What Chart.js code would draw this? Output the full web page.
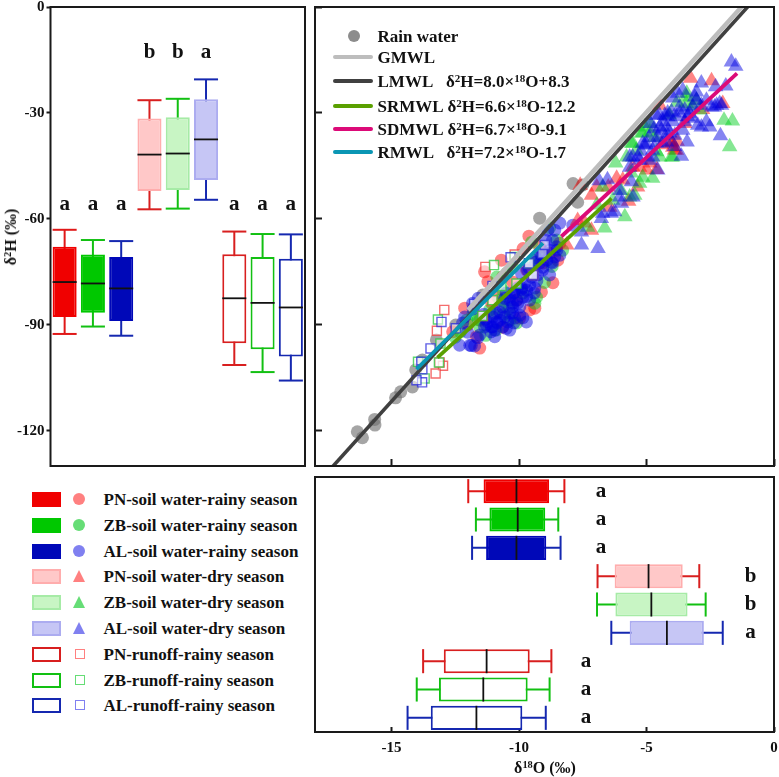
<!DOCTYPE html>
<html>
<head>
<meta charset="utf-8">
<script src="https://cdn.jsdelivr.net/npm/chart.js@4"></script>
<style>
    html, body { margin: 0; background: #fff; }
    body { width: 779px; height: 777px; position: relative; overflow: hidden;
           font-family: "Liberation Serif", serif; font-weight: bold; color: #111; }
    canvas { position: absolute; }
    .txt { position: absolute; white-space: nowrap; line-height: 1; }
    sup { font-size: 0.65em; line-height: 0; vertical-align: 0.45em; }
    .swatch, .mark, .ln { position: absolute; box-sizing: border-box; }
</style>
</head>
<body>
<canvas id="leftChart" style="left:0;top:0"></canvas>
<canvas id="mainChart" style="left:310px;top:0"></canvas>
<canvas id="bottomChart" style="left:310px;top:472px"></canvas>
<div id="overlay"></div>

<script>
// box values, same order everywhere: rainy soil, dry soil, runoff (PN, ZB, AL)
const groups = ["PN-soil-rainy", "ZB-soil-rainy", "AL-soil-rainy", "PN-soil-dry", "ZB-soil-dry", "AL-soil-dry", "PN-runoff", "ZB-runoff", "AL-runoff"];

const hLow = [-92.6, -90.5, -93.1, -57.3, -57.1, -54.6, -101.4, -103.4, -105.8];
const hQ1 = [-87.8, -86.6, -88.9, -52.1, -51.8, -49.0, -95.2, -96.9, -99.0];
const hMed = [-77.9, -78.3, -79.7, -41.8, -41.5, -37.5, -82.5, -83.8, -85.1];
const hQ3 = [-67.9, -70.1, -70.8, -31.6, -31.2, -26.1, -70.0, -70.8, -71.3];
const hHigh = [-63.1, -66.0, -66.3, -26.4, -26.0, -20.5, -63.6, -64.3, -64.4];
const hLetters = ["a", "a", "a", "b", "b", "a", "a", "a", "a"];
const hLetterPos = [-56.1, -56.1, -56.1, -13, -13, -13, -56.1, -56.1, -56.1];

const oLow = [-11.99, -11.69, -11.84, -6.92, -6.94, -6.38, -13.76, -14.01, -14.37];
const oQ1 = [-11.39, -11.16, -11.29, -6.25, -6.22, -5.66, -12.95, -13.14, -13.46];
const oMed = [-10.1, -10.05, -10.1, -4.92, -4.81, -4.2, -11.27, -11.4, -11.67];
const oQ3 = [-8.82, -8.97, -8.93, -3.58, -3.39, -2.75, -9.58, -9.66, -9.87];
const oHigh = [-8.22, -8.46, -8.37, -2.93, -2.68, -2.01, -8.73, -8.8, -8.95];
const oLetters = ["a", "a", "a", "b", "b", "a", "a", "a", "a"];
const oLetterPos = [-6.78, -6.78, -6.78, -0.92, -0.92, -0.92, -7.37, -7.37, -7.37];

const yTicks = [0, -30, -60, -90, -120];
const xTicks = [-15, -10, -5, 0];

// scatter points [d18O, d2H]
const rainWater = [[-16.34, -120.3], [-16.14, -122], [-15.66, -116.8], [-15.65, -118.4], [-14.64, -109], [-14.84, -110.7], [-14.18, -107.6], [-14.05, -102.8], [-13.79, -100], [-13.24, -94.3], [-12.48, -90.1], [-11.42, -81.6], [-9.19, -59.8], [-7.88, -50], [-7.5, -50.4], [-7.7, -55.3]];

const pnRainy = [[-12.13, -85.3], [-11.67, -93.4], [-11.54, -96.6], [-11.35, -75], [-11.22, -77.8], [-10.69, -71.7], [-9.84, -68.4], [-9.61, -64.9], [-9.12, -80.7], [-8.67, -78.1], [-9.97, -88.1], [-9.38, -85.3], [-8.4, -66.9], [-8.48, -71.7], [-10.64, -76.5], [-10.25, -77.9], [-10.84, -82.2], [-11.07, -83.9], [-11.54, -88.7], [-10.64, -90.7], [-9.58, -85.8], [-10.09, -83], [-9.07, -72.5], [-8.8, -69.7], [-9.19, -68], [-9.7, -74.5], [-12.6, -92], [-12, -90]];
const zbRainy = [[-9.31, -82.2], [-9.38, -83.9], [-10.36, -88.7], [-11.15, -85.8], [-11.54, -90.6], [-12.05, -88.7], [-8.29, -68.9], [-8.52, -66], [-9.5, -66.6], [-10.76, -83], [-10.48, -75.4], [-10.25, -73.7], [-9.85, -81], [-10.09, -89.5], [-10.87, -76.5], [-10.64, -80.2], [-9.46, -71.7], [-12.3, -92], [-12.5, -93.5], [-10.9, -91.5], [-11.3, -93], [-9, -78], [-8.7, -73.5], [-10.6, -87], [-11.8, -87], [-9.1, -70.5], [-8.8, -62.5], [-10.6, -83.5], [-11.6, -88.5], [-11, -87], [-10.4, -85.5]];
const alRainy = [[-9.71, -89.2], [-10.95, -93.4], [-11.93, -95.8], [-11.74, -96], [-11.62, -93.7], [-10.64, -90.6], [-9.85, -88], [-11.03, -90.6], [-11.35, -90.6], [-11.82, -83.9], [-12.13, -87.8], [-12.21, -89.5], [-10.09, -83], [-10.36, -83], [-9.85, -82.2], [-9.7, -80.2], [-9.58, -78.8], [-9.97, -85], [-10.25, -85], [-10.64, -85], [-11.03, -87.8], [-10.87, -86.7], [-10.56, -87.8], [-10.25, -86.7], [-9.07, -73.7], [-8.91, -71.7], [-9.19, -72.5], [-8.8, -75.9], [-8.68, -66], [-8.87, -63.2], [-8.4, -61.2], [-8.8, -68.9], [-8.6, -63.2], [-9.27, -75.9], [-9.5, -76.5], [-9.78, -78.2], [-7.89, -61.8], [-8.6, -70.8], [-12.33, -95.8], [-11.87, -95.9], [-11.08, -90.6], [-10.25, -83.9], [-8.53, -67.9], [-8.4, -70.3], [-9.07, -74.5], [-8.68, -72.5], [-10.36, -82.1], [-11.28, -90.1], [-10.75, -88.7], [-10.36, -86.7], [-10.05, -83.9], [-9.7, -82], [-10.05, -79.5], [-10.5, -81], [-9.9, -80], [-10.2, -81], [-9.4, -81], [-9.3, -77.5], [-9.6, -74], [-9.9, -75.5], [-9.15, -70], [-9.35, -71], [-8.95, -66], [-11.8, -85.5], [-11.6, -82.5], [-11.3, -88.5], [-11.1, -92], [-10.85, -89.5], [-10.5, -91], [-10.2, -89.5], [-11.38, -87], [-11.22, -89.2], [-10.87, -89.2], [-10.44, -89.2], [-10.17, -88.1], [-10.56, -82.5], [-10.17, -80.8], [-9.89, -79.6], [-9.58, -83], [-9.38, -79.6], [-9.66, -74.5], [-9.35, -72.3], [-9.03, -69.4], [-8.72, -72.3], [-8.52, -68.9], [-10.75, -86.4], [-9.97, -87.3], [-10.36, -91.5], [-10.95, -91.5], [-11.54, -92.9], [-12.02, -92.1]];

const pnDry = [[-3.27, -20.2], [-2.45, -20.9], [-3.97, -39.7], [-4, -38.5], [-3.8, -38], [-3.9, -40.5], [-2.01, -27.3], [-4.87, -44.2], [-5.27, -45.4], [-7.16, -53.3], [-6.95, -51], [-7.16, -63.2], [-6.17, -48.5], [-8.13, -67.4], [-5.93, -49], [-5.35, -51], [-4.99, -46.2], [-6.44, -56.7], [-7.42, -61.2], [-4.4, -39], [-2.8, -29], [-3.5, -33], [-4.6, -46], [-5.7, -55], [-7.7, -60.5], [-6.5, -51], [-7.6, -50.5], [-3.83, -40.6], [-4.02, -38.2], [-5.54, -45.3], [-4.48, -27.8]];
const zbDry = [[-1.74, -39.6], [-1.96, -32.1], [-1.63, -32.3], [-4.02, -42.5], [-4.87, -32.9], [-5.2, -35.7], [-5.54, -38.6], [-4.68, -36.9], [-3.42, -24.4], [-5.07, -34], [-5.85, -59.4], [-6.21, -44.2], [-6.64, -62.6], [-7.31, -62.4], [-5.46, -53.3], [-5.78, -42.5], [-5.15, -48.2], [-6.72, -51], [-6.95, -56.1], [-6.33, -54.7], [-4.1, -30.5], [-3.2, -28], [-3.8, -27], [-4.6, -41], [-5.6, -47], [-6, -52], [-4.87, -35.4], [-5.4, -40.6], [-4.48, -42.5], [-3.04, -26.4], [-3.44, -27.3], [-5.15, -35.7], [-5.59, -38.6], [-4.76, -48.5], [-5.27, -49.9], [-3.97, -42.5], [-3.44, -25.5], [-2.91, -29.2], [-5.66, -53.8]];
const alDry = [[-1.67, -15.6], [-1.5, -16.8], [-2.85, -21.5], [-2.29, -22.6], [-1.89, -22.4], [-2.33, -28.3], [-2.65, -32.5], [-2.1, -36.5], [-3.41, -38.2], [-3.63, -42.3], [-3.78, -24.4], [-3.97, -25.8], [-3.04, -24.1], [-3.11, -25.5], [-2.85, -34], [-2.52, -34], [-4.17, -31.1], [-4.36, -32.5], [-4.48, -34], [-4.21, -34], [-3.97, -32.5], [-3.7, -28.3], [-3.5, -29.2], [-3.31, -30.1], [-4.76, -40.6], [-5.54, -42.5], [-4.36, -38.6], [-4.56, -36.9], [-4.09, -35.7], [-2.25, -27.8], [-2.44, -28.3], [-2.13, -27.3], [-6.9, -68.4], [-7.55, -67.4], [-7.55, -63.7], [-6.77, -59.9], [-5.98, -55.6], [-5.53, -53.8], [-6.86, -49.2], [-6.53, -48.9], [-5.66, -42.5], [-6.05, -51.9], [-5.59, -49.5], [-6.25, -58], [-6.72, -58.4], [-4.9, -37], [-4.7, -34.5], [-4.5, -30.5], [-5, -39], [-5.2, -41], [-4.6, -38.5], [-4.2, -36], [-4.85, -33], [-3.9, -39.5], [-4.29, -30.7], [-4.02, -29.7], [-4.42, -34.9], [-3.83, -31.1], [-3.7, -30], [-3.5, -32.5], [-3.38, -31.1], [-3.19, -31.5], [-2.99, -33.5], [-3.58, -34.9], [-3.89, -36.3], [-4.21, -38.2], [-5.27, -43.4], [-4.76, -42.5], [-5.15, -38.6], [-2.85, -27.8], [-2.65, -26.4], [-3.19, -28.3], [-3.04, -26.4], [-4.56, -46.2], [-4.61, -30.7], [-4.17, -30], [-3.58, -23.6], [-2.06, -27.8], [-5.08, -39.1], [-5.35, -42.5], [-5.66, -45.4], [-4.87, -43.4], [-6.05, -53.8], [-6.38, -58.4]];

const pnRunoff = [[-12.93, -85.8], [-13.22, -91.7], [-12.98, -101.6], [-13.27, -103.8], [-11.32, -73.6], [-13.11, -100.7], [-10.17, -70.1], [-11.41, -87.5], [-11.04, -83.3], [-9.45, -75.9]];
const zbRunoff = [[-13.18, -88.5], [-13.96, -100.5], [-13.7, -105.2], [-13.08, -95.3], [-13.14, -100.7], [-10.98, -73.1], [-10.17, -70.8], [-10.69, -79], [-10.1, -78.3], [-11.44, -87.5], [-11.04, -83], [-9.61, -72.6]];
const alRunoff = [[-13.04, -89.2], [-13.47, -96.7], [-13.83, -100.5], [-13.8, -106.3], [-14.02, -105.7], [-13.79, -102.6], [-12.48, -91], [-11.76, -84.1], [-11.04, -79], [-10.33, -70.9], [-9.61, -72.6], [-9.45, -75.9], [-9.08, -69.8], [-8.99, -67.4]];

// water lines, end points only
const gmwl = [[-12, -85.8], [-0.9, 3]];
const lmwl = [[-17.4, -130.9], [-0.8, 1.9]];
const srmwl = [[-13.2, -99.3], [-6.37, -54.2]];
const sdmwl = [[-8.34, -65], [-1.45, -18.8]];
const rmwl = [[-14.02, -102.6], [-9.06, -66.9]];

const legendRows = ["PN-soil water-rainy season", "ZB-soil water-rainy season", "AL-soil water-rainy season", "PN-soil water-dry season", "ZB-soil water-dry season", "AL-soil water-dry season", "PN-runoff-rainy season", "ZB-runoff-rainy season", "AL-runoff-rainy season"];

// colours
const boxFill = ["#f00000", "#00c800", "#0008b8", "#ffc8c8", "#c8f5c4", "#c6c6f5", "#ffffff", "#ffffff", "#ffffff"];
const boxEdge = ["#f00000", "#00c800", "#0008b8", "#ffadad", "#a6eba6", "#acacf0", "#d81f1f", "#12c012", "#1528b0"];
const whiskerColor = ["#e01818", "#12c012", "#1528b0", "#d81f1f", "#12c012", "#1528b0", "#d81f1f", "#12c012", "#1528b0"];
const redA = "rgba(255,0,0,0.48)";
const greenA = "rgba(0,205,30,0.48)";
const blueA = "rgba(0,0,225,0.48)";

const SERIF = '"Liberation Serif", serif';
Chart.defaults.font.family = SERIF;
Chart.defaults.font.weight = "bold";
Chart.defaults.font.size = 15;
Chart.defaults.color = "#111";
Chart.defaults.animation = false;

const framePlugin = {
    id: "frame",
    afterDraw(chart) {
        const a = chart.chartArea, ctx = chart.ctx;
        ctx.save();
        ctx.strokeStyle = "#1a1a1a";
        ctx.lineWidth = 2;
        ctx.strokeRect(a.left, a.top, a.right - a.left, a.bottom - a.top);
        ctx.restore();
    }
};

// whiskers go under the bars, medians and letters on top
function boxPlugin(cfg) {
    const horizontal = cfg.horizontal;
    function line(ctx, x1, y1, x2, y2, color, w) {
        ctx.strokeStyle = color;
        ctx.lineWidth = w;
        ctx.beginPath();
        ctx.moveTo(x1, y1);
        ctx.lineTo(x2, y2);
        ctx.stroke();
    }
    return {
        id: "box",
        beforeDatasetsDraw(chart) {
            const val = horizontal ? chart.scales.x : chart.scales.y;
            const bars = chart.getDatasetMeta(0).data;
            const ctx = chart.ctx;
            ctx.save();
            bars.forEach((b, i) => {
                const half = (horizontal ? b.height : b.width) / 2;
                const c = horizontal ? b.y : b.x;
                const lo = val.getPixelForValue(cfg.low[i]);
                const hi = val.getPixelForValue(cfg.high[i]);
                if (horizontal) {
                    line(ctx, lo, c, hi, c, whiskerColor[i], 2);
                    line(ctx, lo, c - half, lo, c + half, whiskerColor[i], 2);
                    line(ctx, hi, c - half, hi, c + half, whiskerColor[i], 2);
                } else {
                    line(ctx, c, lo, c, hi, whiskerColor[i], 2);
                    line(ctx, c - half, lo, c + half, lo, whiskerColor[i], 2);
                    line(ctx, c - half, hi, c + half, hi, whiskerColor[i], 2);
                }
            });
            ctx.restore();
        },
        afterDatasetsDraw(chart) {
            const val = horizontal ? chart.scales.x : chart.scales.y;
            const bars = chart.getDatasetMeta(0).data;
            const ctx = chart.ctx;
            ctx.save();
            ctx.font = 'bold 21px ' + SERIF;
            ctx.textAlign = "center";
            ctx.textBaseline = "middle";
            ctx.fillStyle = "#111";
            bars.forEach((b, i) => {
                const half = (horizontal ? b.height : b.width) / 2;
                const c = horizontal ? b.y : b.x;
                const m = val.getPixelForValue(cfg.med[i]);
                const p = val.getPixelForValue(cfg.letterPos[i]);
                if (horizontal) {
                    line(ctx, m, c - half, m, c + half, "#111", 1.8);
                    ctx.fillText(cfg.letters[i], p, c);
                } else {
                    line(ctx, c - half, m, c + half, m, "#111", 1.8);
                    ctx.fillText(cfg.letters[i], c, p);
                }
            });
            ctx.restore();
        }
    };
}

function setSize(id, w, h) {
    const c = document.getElementById(id);
    c.width = w;
    c.height = h;
    c.style.width = w + "px";
    c.style.height = h + "px";
    return c.getContext("2d");
}

function boxData(q1, q3) {
    return {
        labels: groups,
        datasets: [{
            data: q1.map((v, i) => [v, q3[i]]),
            backgroundColor: boxFill,
            borderColor: boxEdge,
            borderWidth: 2,
            borderSkipped: false,
            barPercentage: 0.85,
            categoryPercentage: 1
        }]
    };
}

const noLegend = { legend: { display: false }, tooltip: { enabled: false } };

// δ2H boxes
new Chart(setSize("leftChart", 310, 472), {
    type: "bar",
    data: boxData(hQ1, hQ3),
    plugins: [boxPlugin({ low: hLow, high: hHigh, med: hMed, letters: hLetters, letterPos: hLetterPos }), framePlugin],
    options: {
        responsive: false,
        devicePixelRatio: 1,
        layout: { autoPadding: false, padding: { top: 7, right: 5, bottom: 6 } },
        plugins: noLegend,
        scales: {
            x: { display: false },
            y: {
                min: -130, max: 0,
                afterBuildTicks: s => { s.ticks = yTicks.map(v => ({ value: v })); },
                afterFit: s => { s.width = 50.5; s.paddingTop = 0; s.paddingBottom = 0; },
                border: { display: false },
                grid: { drawOnChartArea: false, tickLength: 4, tickWidth: 2, tickColor: "#1a1a1a" },
                ticks: { padding: 2, callback: v => v }
            }
        }
    }
});

// scatter, painted bottom to top then reversed since chart.js draws dataset 0 last
function pts(data, style, radius, fill, edge) {
    return {
        data: data.map(p => ({ x: p[0], y: p[1] })),
        showLine: false,
        pointStyle: style,
        pointRadius: radius,
        pointBackgroundColor: fill,
        pointBorderColor: edge,
        pointBorderWidth: edge === fill ? 0 : 1.4
    };
}
function wline(data, color, w) {
    return {
        data: data.map(p => ({ x: p[0], y: p[1] })),
        showLine: true,
        borderColor: color,
        borderWidth: w,
        pointRadius: 0
    };
}
const WHITEISH = "rgba(255,255,255,0.55)";
const RAIN = "rgba(110,110,110,0.62)";
const paintOrder = [
    pts(rainWater, "circle", 6.5, RAIN, RAIN),
    pts(pnRainy, "circle", 6.5, redA, redA),
    pts(zbRainy, "circle", 6.5, greenA, greenA),
    pts(alRainy, "circle", 6.5, blueA, blueA),
    pts(pnDry, "triangle", 9, redA, redA),
    pts(zbDry, "triangle", 9, greenA, greenA),
    pts(alDry, "triangle", 9, blueA, blueA),
    pts(pnRunoff, "rect", 6.4, WHITEISH, "rgba(240,60,60,0.75)"),
    pts(zbRunoff, "rect", 6.4, WHITEISH, "rgba(40,200,60,0.75)"),
    pts(alRunoff, "rect", 6.4, WHITEISH, "rgba(40,40,220,0.75)"),
    wline(gmwl, "#bdbdbd", 4.5),
    wline(lmwl, "#404040", 3.6),
    wline(srmwl, "#5aa000", 3.8),
    wline(rmwl, "#0a96b4", 3.8),
    wline(sdmwl, "#dc0a78", 3.8)
];

new Chart(setSize("mainChart", 469, 472), {
    type: "scatter",
    data: { datasets: paintOrder.slice().reverse() },
    plugins: [framePlugin],
    options: {
        responsive: false,
        devicePixelRatio: 1,
        layout: { autoPadding: false, padding: { left: 5, top: 7, right: 5, bottom: 6 } },
        plugins: noLegend,
        scales: {
            x: {
                min: -18, max: 0,
                afterBuildTicks: s => { s.ticks = xTicks.map(v => ({ value: v })); },
                afterFit: s => { s.height = 0; },
                border: { display: false },
                grid: { drawOnChartArea: false, tickLength: -7, tickWidth: 2, tickColor: "#1a1a1a" },
                ticks: { display: false }
            },
            y: {
                min: -130, max: 0,
                afterBuildTicks: s => { s.ticks = yTicks.map(v => ({ value: v })); },
                afterFit: s => { s.width = 0; },
                border: { display: false },
                grid: { drawOnChartArea: false, tickLength: -7, tickWidth: 2, tickColor: "#1a1a1a" },
                ticks: { display: false }
            }
        }
    }
});

// δ18O boxes
new Chart(setSize("bottomChart", 469, 305), {
    type: "bar",
    data: boxData(oQ1, oQ3),
    plugins: [boxPlugin({ horizontal: true, low: oLow, high: oHigh, med: oMed, letters: oLetters, letterPos: oLetterPos }), framePlugin],
    options: {
        indexAxis: "y",
        responsive: false,
        devicePixelRatio: 1,
        layout: { autoPadding: false, padding: { left: 5, top: 5, right: 5 } },
        plugins: noLegend,
        scales: {
            y: { display: false },
            x: {
                min: -18, max: 0,
                afterBuildTicks: s => { s.ticks = xTicks.map(v => ({ value: v })); },
                afterFit: s => { s.height = 45; s.paddingLeft = 0; s.paddingRight = 0; },
                border: { display: false },
                grid: { drawOnChartArea: false, tickLength: -5, tickWidth: 2, tickColor: "#1a1a1a" },
                ticks: { padding: 12, maxRotation: 0, autoSkip: false, callback: v => v }
            }
        }
    }
});

// html bits: axis titles and the two legends
const overlay = document.getElementById("overlay");
function addText(html, left, top, size, extra) {
    const d = document.createElement("div");
    d.className = "txt";
    d.innerHTML = html;
    d.style.cssText = `left:${left}px;top:${top}px;font-size:${size}px;${extra || ""}`;
    overlay.appendChild(d);
}
function addBox(cls, css) {
    const d = document.createElement("div");
    d.className = cls;
    d.style.cssText = css;
    overlay.appendChild(d);
}

addText("δ<sup>2</sup>H (‰)", 11, 237, 16, "transform:translate(-50%,-50%) rotate(-90deg);");
addText("δ<sup>18</sup>O (‰)", 545, 768, 16, "transform:translate(-50%,-50%);");

// panel legend
const panelLabels = ["GMWL", "LMWL", "SRMWL", "SDMWL", "RMWL"];
const panelEq = ["", "δ<sup>2</sup>H=8.0×<sup>18</sup>O+8.3", "δ<sup>2</sup>H=6.6×<sup>18</sup>O-12.2", "δ<sup>2</sup>H=6.7×<sup>18</sup>O-9.1", "δ<sup>2</sup>H=7.2×<sup>18</sup>O-1.7"];
const panelColor = ["#bdbdbd", "#404040", "#5aa000", "#dc0a78", "#0a96b4"];
const panelY = [57, 81, 106, 129, 152];
const panelEqX = [0, 446, 447.5, 447.5, 446.5];

addBox("mark", "left:347.5px;top:30px;width:12px;height:12px;border-radius:50%;background:#8c8c8c;");
addText("Rain water", 377.5, 27.5, 17);
panelLabels.forEach((t, i) => {
    addBox("ln", `left:333px;top:${panelY[i] - 2}px;width:40px;height:4px;background:${panelColor[i]};border-radius:2px;`);
    addText(t, 377.5, panelY[i] - 8.5, 17);
    if (panelEq[i]) addText(panelEq[i], panelEqX[i], panelY[i] - 8.5, 17);
});

// left legend
const rowY = [499.3, 525, 551, 576.7, 602.7, 628.3, 654, 680, 705];
const markColor = ["#ff8080", "#66dd76", "#8080f0"];
legendRows.forEach((t, i) => {
    const y = rowY[i];
    const borderW = i < 3 ? 0 : 2;
    addBox("swatch", `left:32px;top:${y - 7.5}px;width:29px;height:15px;background:${boxFill[i]};border:${borderW}px solid ${boxEdge[i]};`);
    const col = markColor[i % 3];
    if (i < 3) {
        addBox("mark", `left:73.3px;top:${y - 6}px;width:12px;height:12px;border-radius:50%;background:${col};`);
    } else if (i < 6) {
        addBox("mark", `left:73px;top:${y - 6.5}px;width:0;height:0;border-left:6.5px solid transparent;border-right:6.5px solid transparent;border-bottom:12px solid ${col};`);
    } else {
        addBox("mark", `left:74.5px;top:${y - 5}px;width:10px;height:10px;border:1.6px solid ${col};`);
    }
    addText(t, 103.5, y - 8.5, 17);
});
</script>
</body>
</html>
